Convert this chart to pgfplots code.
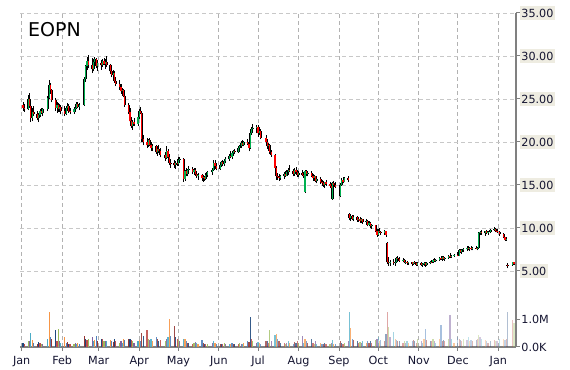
\documentclass[border=0pt]{standalone}
\usepackage{fontspec}
\setmainfont{DejaVu Sans}
\usepackage{pgfplots}
\pgfplotsset{compat=1.18}
\usepackage{pgfplotstable}
\definecolor{gridc}{RGB}{200,200,200}
\definecolor{gridv}{RGB}{178,178,178}
\definecolor{axisc}{RGB}{128,128,128}
\definecolor{bgtwo}{HTML}{EEECE1}
\definecolor{labtext}{HTML}{141430}
\definecolor{upg}{HTML}{00B050}
\definecolor{dnr}{HTML}{FF0000}
\definecolor{vc0}{HTML}{1F497D}
\definecolor{vc1}{HTML}{C0504D}
\definecolor{vc2}{HTML}{9BBB59}
\definecolor{vc3}{HTML}{8064A2}
\definecolor{vc4}{HTML}{4BACC6}
\definecolor{vc5}{HTML}{F79646}
\definecolor{vc6}{HTML}{4F81BD}
\definecolor{vc7}{HTML}{943634}

\pgfplotstableread{
d o h l c v
1 24.3 24.6 23.6 24.0 0.15
2 24.0 24.4 23.5 23.8 0.12
5 23.8 25.5 23.7 25.0 0.20
6 25.0 25.7 24.0 24.2 0.22
7 24.2 24.5 22.3 22.8 0.50
8 22.8 23.9 22.4 23.5 0.25
9 23.5 24.2 23.0 23.2 0.15
12 23.2 23.6 22.5 22.8 0.12
13 22.8 23.4 22.3 23.1 0.18
14 23.1 23.8 22.9 23.6 0.14
15 23.6 24.0 23.2 23.4 0.10
16 23.4 23.9 23.0 23.8 0.12
20 23.8 25.4 23.6 25.1 0.30
21 25.1 27.2 25.0 26.6 1.25
22 26.6 26.9 25.6 26.0 0.35
23 26.0 26.2 24.6 24.9 0.28
26 24.9 25.1 23.6 24.0 0.60
27 24.0 24.6 23.4 24.3 0.20
28 24.3 24.5 23.5 23.8 0.64
29 23.8 24.4 23.5 24.1 0.20
30 24.1 24.3 23.2 23.6 0.15
33 23.6 24.2 23.0 23.3 0.36
34 23.3 24.0 23.1 23.9 0.15
35 23.9 24.5 23.6 24.2 0.18
36 24.2 24.4 23.4 23.6 0.12
37 23.6 24.0 23.2 23.5 0.10
40 23.5 24.1 23.3 23.8 0.12
41 23.8 24.3 23.5 24.0 0.15
42 24.0 24.6 23.8 24.4 0.10
43 24.4 24.7 23.9 24.1 0.14
44 24.1 24.5 23.7 24.3 0.12
48 24.3 27.5 24.2 27.3 0.38
49 27.3 29.0 27.0 28.8 0.30
50 28.8 29.9 28.4 29.4 0.25
51 29.4 30.1 28.6 29.0 0.30
54 29.0 29.8 28.0 28.5 0.35
55 28.5 29.6 28.2 29.3 0.22
56 29.3 29.9 28.9 29.6 0.25
57 29.6 29.8 28.6 28.8 0.38
58 28.8 29.5 28.3 29.2 0.20
61 29.2 29.5 28.4 28.9 0.28
62 28.9 29.7 28.7 29.4 0.30
63 29.4 29.8 28.9 29.1 0.20
64 29.1 29.6 28.5 29.3 0.22
65 29.3 30.0 28.7 28.9 0.20
68 28.9 29.1 27.9 28.2 0.25
69 28.2 28.8 27.5 27.8 0.22
70 27.8 28.4 27.3 28.0 0.18
71 28.0 28.2 26.9 27.1 0.28
72 27.1 27.6 26.5 26.8 0.20
75 26.8 27.2 26.1 26.4 0.15
76 26.4 26.7 25.6 25.9 0.20
77 25.9 26.3 25.4 26.1 0.15
78 26.1 26.2 25.2 25.4 0.30
79 25.4 25.6 24.1 24.3 0.25
82 24.3 24.5 23.3 23.5 0.30
83 23.5 23.9 22.1 22.4 0.30
84 22.4 22.9 21.6 21.9 0.25
85 21.9 22.6 21.4 22.3 0.20
86 22.3 22.8 21.9 22.1 0.15
89 22.1 23.1 21.9 22.9 0.22
90 22.9 23.8 22.7 23.6 0.25
91 23.6 24.1 23.2 23.4 0.20
92 23.4 23.6 20.0 20.3 0.50
93 20.3 20.8 19.6 20.0 0.40
96 20.0 20.5 19.3 19.6 0.60
97 19.6 20.4 19.4 20.2 0.30
98 20.2 20.5 19.5 19.7 0.25
99 19.7 20.0 19.0 19.3 0.30
100 19.3 19.8 18.9 19.5 0.20
103 19.5 19.7 18.6 18.8 0.35
104 18.8 19.5 18.4 19.2 0.30
105 19.2 19.6 18.7 18.9 0.20
106 18.9 19.3 18.2 18.5 0.25
110 18.5 18.8 17.8 18.1 0.20
111 18.1 19.5 18.0 19.0 0.30
112 19.0 19.2 18.0 18.2 0.35
113 18.2 18.6 17.3 17.6 1.02
114 17.6 18.0 17.0 17.5 0.40
117 17.5 17.9 17.0 17.3 0.75
118 17.3 17.8 16.9 17.6 0.35
119 17.6 18.0 17.2 17.4 0.30
120 17.4 18.2 17.2 17.9 0.25
121 17.9 18.3 17.5 18.0 0.20
124 18.0 18.1 15.4 15.7 0.28
125 15.7 16.8 15.5 16.6 0.30
126 16.6 17.0 16.0 16.3 0.20
127 16.3 16.9 16.0 16.7 0.15
128 16.7 17.2 16.4 16.9 0.15
131 16.9 17.1 16.3 16.5 0.12
132 16.5 17.0 16.2 16.8 0.15
133 16.8 17.0 16.1 16.3 0.18
134 16.3 16.6 15.8 16.0 0.15
135 16.0 16.4 15.6 16.2 0.12
138 16.2 16.3 15.5 15.8 0.25
139 15.8 16.2 15.4 15.9 0.15
140 15.9 16.1 15.5 15.7 0.10
141 15.7 16.4 15.6 16.2 0.12
142 16.2 16.6 15.9 16.5 0.10
146 16.5 17.0 16.2 16.8 0.15
147 16.8 17.9 16.6 17.6 0.20
148 17.6 17.9 17.0 17.2 0.15
149 17.2 17.5 16.7 16.9 0.12
152 16.9 17.5 16.8 17.3 0.10
153 17.3 17.8 17.1 17.7 0.12
154 17.7 17.9 17.2 17.4 0.10
155 17.4 17.9 17.2 17.8 0.15
156 17.8 18.2 17.5 18.0 0.10
159 18.0 18.6 17.8 18.4 0.12
160 18.4 18.9 18.1 18.3 0.10
161 18.3 18.8 18.0 18.7 0.15
162 18.7 19.1 18.4 18.9 0.12
163 18.9 19.2 18.6 18.8 0.10
166 18.8 19.5 18.7 19.3 0.12
167 19.3 19.7 19.0 19.5 0.15
168 19.5 20.1 19.3 19.9 0.12
169 19.9 20.2 19.5 19.7 0.10
170 19.7 20.1 19.5 20.0 0.14
173 20.0 20.3 19.6 19.8 0.20
174 19.8 20.0 18.9 19.3 0.18
175 19.3 21.3 19.2 21.0 1.07
176 21.0 21.7 20.8 21.5 0.30
177 21.5 22.1 21.2 21.6 0.20
180 21.6 22.0 21.0 21.8 0.15
181 21.8 22.0 20.6 21.0 0.18
182 21.0 21.7 20.8 21.3 0.15
183 21.3 21.5 20.3 20.5 0.12
187 20.5 20.8 19.8 20.0 0.20
188 20.0 20.3 19.2 19.5 0.22
189 19.5 19.9 19.0 19.7 0.15
190 19.7 19.8 18.6 18.8 0.60
191 18.8 19.1 18.3 18.5 0.20
194 18.5 18.6 16.8 17.0 0.42
195 17.0 17.2 15.6 16.0 0.48
196 16.0 16.4 15.6 15.9 0.30
197 15.9 16.3 15.5 15.8 0.20
198 15.8 16.2 15.6 16.1 0.15
201 16.1 16.5 15.7 16.3 0.15
202 16.3 16.6 15.9 16.1 0.12
203 16.1 16.7 16.0 16.5 0.15
204 16.5 17.0 16.2 16.8 0.20
205 16.8 17.3 16.5 16.6 0.15
208 16.6 16.9 16.0 16.3 0.12
209 16.3 17.0 16.1 16.8 0.18
210 16.8 17.1 16.4 16.5 0.15
211 16.5 16.7 15.9 16.2 0.20
212 16.2 16.6 15.9 16.4 0.15
215 16.4 16.7 16.0 16.2 0.40
216 16.2 16.5 15.8 16.1 0.15
217 14.2 16.7 14.1 16.6 0.30
218 16.6 16.8 16.0 16.3 0.20
219 16.3 16.6 16.0 16.4 0.15
222 16.4 16.6 15.9 16.1 0.30
223 16.1 16.3 15.5 15.8 0.15
224 15.8 16.2 15.6 16.0 0.12
225 16.0 16.1 15.3 15.5 0.20
226 15.5 15.9 15.2 15.7 0.12
229 15.7 15.9 15.1 15.3 0.15
230 15.3 15.6 14.9 15.2 0.10
231 15.2 15.5 14.8 15.0 0.12
232 15.0 15.4 14.7 15.3 0.15
233 15.3 15.6 14.9 15.1 0.12
236 15.1 15.4 14.7 14.9 0.10
237 14.9 15.2 14.5 14.7 0.15
238 13.4 15.4 13.3 15.2 0.25
239 15.2 15.5 14.8 15.0 0.12
240 15.0 15.3 14.6 14.8 0.10
244 13.7 15.2 13.6 15.0 0.20
245 15.0 15.8 14.9 15.6 0.15
246 15.6 15.9 15.2 15.4 0.12
247 15.4 15.9 15.3 15.8 0.15
250 15.8 16.0 15.4 15.6 0.20
251 11.6 11.7 10.9 11.2 1.25
252 11.2 11.6 10.8 11.4 0.68
253 11.4 11.5 10.9 11.0 0.30
254 11.0 11.5 10.8 11.3 0.25
257 11.3 11.4 10.7 10.9 0.20
258 10.9 11.3 10.7 11.1 0.15
259 11.1 11.3 10.6 10.8 0.18
260 10.8 11.2 10.6 11.0 0.15
261 11.0 11.1 10.5 10.7 0.20
264 10.7 11.0 10.4 10.8 0.15
265 10.8 10.9 10.2 10.4 0.20
266 10.4 10.8 10.2 10.6 0.15
267 10.6 10.7 10.0 10.2 0.20
268 10.2 10.5 9.9 10.3 0.15
271 10.3 10.4 9.5 9.7 0.25
272 9.7 9.9 9.0 9.2 0.30
273 9.2 9.9 9.1 9.7 0.35
274 9.7 10.0 9.4 9.5 0.20
275 9.5 9.7 9.2 9.4 0.25
278 9.4 9.8 9.2 9.6 0.20
279 9.6 9.7 9.0 9.2 0.48
280 8.3 8.4 5.8 6.0 1.26
281 6.0 6.6 5.6 5.9 0.72
282 5.9 6.3 5.6 6.1 0.35
285 6.1 6.4 5.7 5.9 0.54
286 5.9 6.2 5.6 6.0 0.30
287 6.0 6.6 5.9 6.5 0.25
288 6.5 6.7 6.2 6.4 0.20
289 6.4 6.6 6.1 6.2 0.20
292 6.2 6.5 6.0 6.3 0.15
293 6.3 6.4 5.9 6.0 0.20
294 6.0 6.3 5.8 6.1 0.15
295 6.1 6.2 5.7 5.9 0.20
296 5.9 6.1 5.7 6.0 0.15
299 6.0 6.1 5.6 5.8 0.20
300 5.8 6.1 5.7 6.0 0.25
301 6.0 6.2 5.8 5.9 0.20
302 5.9 6.0 5.6 5.7 0.15
303 5.7 6.0 5.6 5.9 0.30
306 5.9 6.0 5.6 5.7 0.20
307 5.7 5.9 5.5 5.8 0.15
308 5.8 6.0 5.6 5.9 0.30
309 5.9 6.0 5.5 5.7 0.66
310 5.7 6.0 5.6 5.9 0.25
313 5.9 6.2 5.8 6.1 0.20
314 6.1 6.3 5.9 6.0 0.20
315 6.0 6.4 5.9 6.3 0.30
316 6.3 6.5 6.1 6.2 0.20
317 6.2 6.4 6.0 6.3 0.15
320 6.3 6.6 6.2 6.5 0.30
321 6.5 6.8 6.3 6.4 0.78
322 6.4 6.7 6.2 6.6 0.20
323 6.6 6.7 6.3 6.4 0.25
324 6.4 6.6 6.2 6.5 0.20
327 6.5 6.9 6.4 6.8 0.30
328 6.8 7.1 6.5 6.6 1.17
329 6.6 6.9 6.5 6.8 0.30
331 6.8 7.0 6.6 6.9 0.15
334 6.9 7.2 6.7 6.8 0.35
335 6.8 7.5 6.7 7.4 0.30
336 7.4 7.6 7.1 7.2 0.25
337 7.2 7.5 7.0 7.4 0.20
338 7.4 7.7 7.2 7.5 0.30
341 7.5 7.9 7.3 7.7 0.25
342 7.7 7.9 7.4 7.5 0.35
343 7.5 7.8 7.3 7.7 0.20
344 7.7 7.9 7.4 7.6 0.25
345 7.6 7.8 7.4 7.7 0.20
348 7.7 7.9 7.5 7.6 0.25
349 7.6 7.8 7.4 7.7 0.30
350 7.7 9.5 7.6 9.4 0.45
351 9.4 9.7 9.2 9.5 0.35
352 9.5 9.8 9.2 9.4 0.30
355 9.4 9.7 9.1 9.6 0.25
356 9.6 9.8 9.3 9.4 0.20
357 9.4 9.6 9.2 9.5 0.15
359 9.5 9.9 9.4 9.8 0.20
362 9.8 10.1 9.6 9.9 0.25
363 9.9 10.0 9.5 9.7 0.20
364 9.7 9.9 9.4 9.5 0.20
366 9.5 9.7 9.1 9.3 0.30
369 9.3 9.4 8.8 8.9 0.30
370 8.9 9.0 8.5 8.6 0.25
371 8.6 8.9 8.5 8.7 0.30
372 5.7 5.9 5.3 5.6 1.26
376 5.7 6.1 5.6 6.0 0.98
377 6.0 6.1 5.7 5.8 0.85
}\data

\newcommand{\volband}[3]{%
  \pgfplotsinvokeforeach{0,...,7}{%
    \addplot[ycomb, line width=1.2bp, draw=vc##1, draw opacity=#3,
      restrict x to domain=#1:#2,
      y filter/.expression={mod(\coordindex,8)==##1 ? y : nan}]
      table[x=d, y=v] \data;
  }%
}

\begin{document}
\begin{tikzpicture}
\useasboundingbox (0,0) rectangle (570bp,370bp);
\begin{axis}[
  at={(20bp,23bp)}, anchor=south west,
  scale only axis, width=496bp, height=334bp,
  xmin=-1.3, xmax=378.5, ymin=-3.84, ymax=35,
  axis y line*=right, axis x line*=bottom,
  axis line style={axisc, line width=1.2bp},
  tick style={axisc, line width=1bp},
  tick align=outside, major tick length=4bp,
  xtick={0,31,59,90,120,151,181,212,243,273,304,334,365},
  xticklabels={Jan,Feb,Mar,Apr,May,Jun,Jul,Aug,Sep,Oct,Nov,Dec,Jan},
  ytick={5,10,15,20,25,30,35},
  yticklabels={5.00,10.00,15.00,20.00,25.00,30.00,35.00},
  xmajorgrids, ymajorgrids,
  x grid style={gridv, line width=0.8bp, dash pattern=on 4bp off 3bp},
  y grid style={gridc, line width=0.8bp, dash pattern=on 4bp off 3bp},
  tick label style={font=\fontsize{11.2bp}{13bp}\selectfont, text=labtext},
  xticklabel style={anchor=base, yshift=-13bp},
  yticklabel style={anchor=west, fill=bgtwo, inner xsep=1.2bp, inner ysep=2.3bp},
  clip=false,
]
\addplot[black, line width=0.8bp, quiver={u=0, v={\thisrow{h}-\thisrow{l}}}]
  table[x=d, y=l] \data;
\addplot[black, line width=2.1bp, quiver={u=0, v={abs(\thisrow{c}-\thisrow{o})}}]
  table[x=d, y expr={min(\thisrow{o},\thisrow{c})}] \data;
\addplot[upg, line width=1.2bp, quiver={u=0, v={max(\thisrow{c}-\thisrow{o},0)}}]
  table[x=d, y=o] \data;
\addplot[dnr, line width=1.2bp, quiver={u=0, v={max(\thisrow{o}-\thisrow{c},0)}}]
  table[x=d, y=c] \data;
\end{axis}
\begin{axis}[
  at={(20bp,23bp)}, anchor=south west,
  scale only axis, width=496bp, height=334bp,
  xmin=-1.3, xmax=378.5, ymin=0, ymax=12.06,
  axis y line*=right, axis x line=none,
  axis line style={axisc, line width=1.2bp},
  tick style={axisc, line width=1bp},
  tick align=outside, major tick length=4bp,
  ytick={0,1}, yticklabels={0.0K,1.0M},
  tick label style={font=\fontsize{11.2bp}{13bp}\selectfont, text=labtext},
  yticklabel style={anchor=west, inner xsep=1.2bp, inner ysep=2.3bp},
]
\volband{-2}{89.5}{1}
\volband{89.5}{180.5}{0.9}
\volband{180.5}{272.5}{0.75}
\volband{272.5}{333.5}{0.5}
\volband{333.5}{380}{0.35}
\end{axis}
\node[anchor=base west, font=\fontsize{19bp}{22bp}\selectfont, inner sep=0pt] at (28bp,333bp) {EOPN};
\end{tikzpicture}
\end{document}
